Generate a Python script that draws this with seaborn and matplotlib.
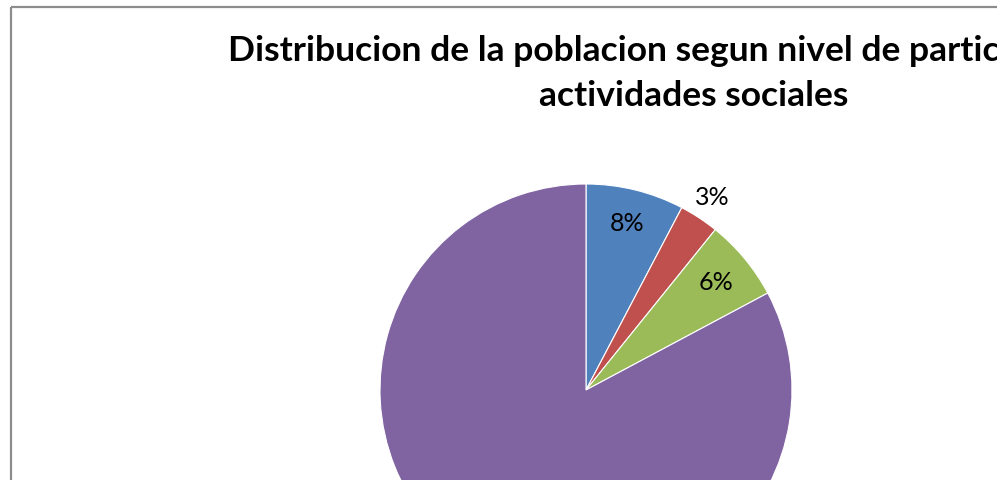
import numpy as np
import seaborn as sns
import matplotlib.pyplot as plt

sns.set_theme(style="white")
plt.rcParams['font.family'] = ['Lato', 'DejaVu Sans']

# Data
categories = ['Alto', 'Medio', 'Bajo', 'Ninguno']
shares = [7.7, 3.1, 6.4, 82.8]
colors = ['#4F81BD', '#C0504D', '#9BBB59', '#8064A2']
title = "Distribucion de la poblacion segun nivel de participacion en\nactividades sociales"

W, H = 997, 480
fig = plt.figure(figsize=(W / 100, H / 100), dpi=100)
ax = fig.add_axes([0, 0, 1, 1])

# pie placed in pixel space, the bottom part falls outside the picture
cx, cy, r = 586, H - 390, 206
wedges, _ = ax.pie(
    shares,
    colors=colors,
    startangle=90,
    counterclock=False,
    center=(cx, cy),
    radius=r,
    wedgeprops=dict(edgecolor='white', linewidth=0.8),
)

# percentage labels (the big slice's label lies below the visible area)
label_dist = [0.83, 1.12, 0.82, None]
total = sum(shares)
for w, v, d in zip(wedges, shares, label_dist):
    if d is None:
        continue
    ang = np.deg2rad((w.theta1 + w.theta2) / 2)
    ax.text(cx + d * r * np.cos(ang), cy + d * r * np.sin(ang),
            f"{v / total * 100:.0f}%", ha='center', va='center',
            fontsize=18, color='black')

ax.set_xlim(0, W)
ax.set_ylim(0, H)
ax.set_aspect('auto')
ax.axis('off')

# chart area border (left and top edges visible)
ax.plot([11, 11], [0, H - 7], color='#8c8c8c', lw=1.6, solid_capstyle='butt')
ax.plot([11, W], [H - 7, H - 7], color='#8c8c8c', lw=1.6, solid_capstyle='butt')

fig.text(694 / W, 1 - 35 / H, title, ha='center', va='top', color='black',
         fontsize=25.5, fontweight='bold', linespacing=1.5)

fig.savefig('out.png', dpi=100, facecolor='white')
